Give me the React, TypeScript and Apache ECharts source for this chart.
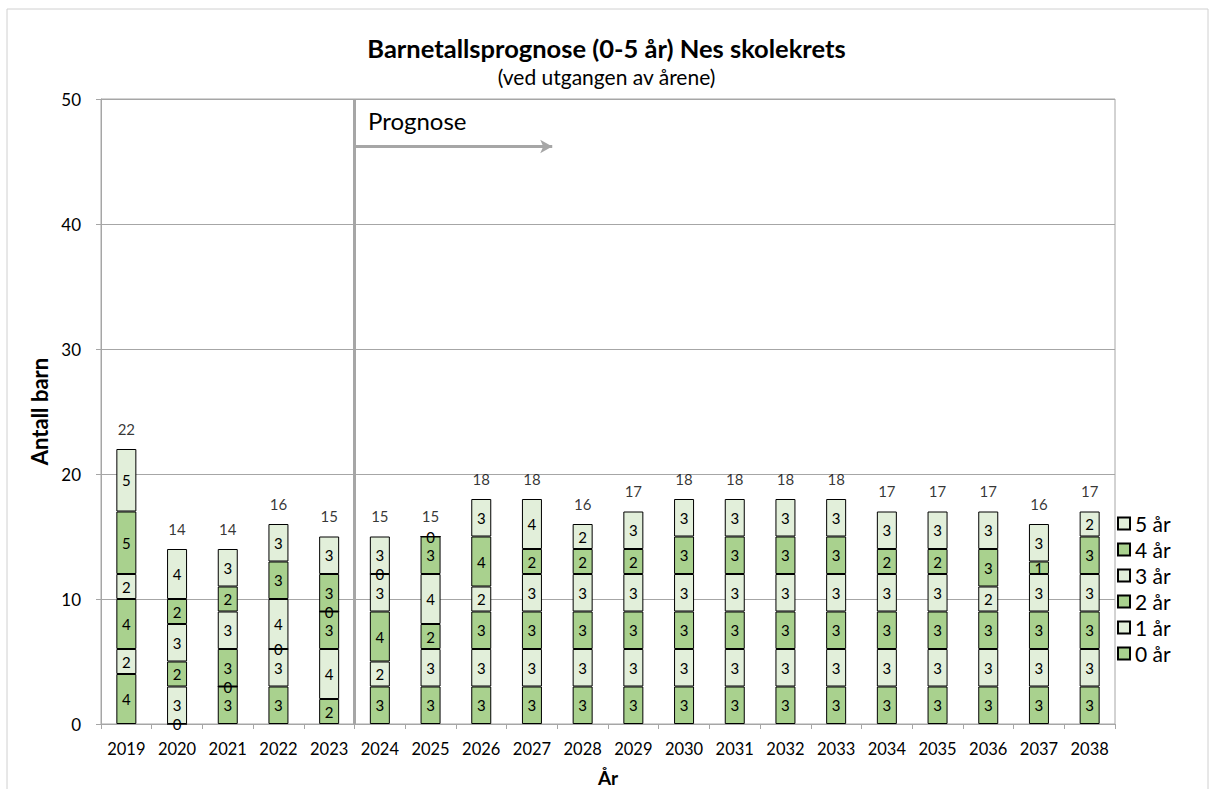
import React, { useEffect, useRef } from "react";
import * as echarts from "echarts";

const years = ["2019","2020","2021","2022","2023","2024","2025","2026","2027","2028","2029","2030","2031","2032","2033","2034","2035","2036","2037","2038"];
const age0 = [4,0,3,3,2,3,3,3,3,3,3,3,3,3,3,3,3,3,3,3];
const age1 = [2,3,0,3,4,2,3,3,3,3,3,3,3,3,3,3,3,3,3,3];
const age2 = [4,2,3,0,3,4,2,3,3,3,3,3,3,3,3,3,3,3,3,3];
const age3 = [2,3,3,4,0,3,4,2,3,3,3,3,3,3,3,3,3,2,3,3];
const age4 = [5,2,2,3,3,0,3,4,2,2,2,3,3,3,3,2,2,3,1,3];
const age5 = [5,4,3,3,3,3,0,3,4,2,3,3,3,3,3,3,3,3,3,2];
const seriesNames = ["0 år","1 år","2 år","3 år","4 år","5 år"];
const yTicks = { min: 0, max: 50, interval: 10 };
const prognoseStart = 5; // boundary index between 2023 and 2024
const arrowY = 46.2;
const arrowEnd = 8.9;

const DARK = "#a9d18e";
const LIGHT = "#e2efda";
const FONT = "Lato";

export default function App() {
  const ref = useRef<HTMLDivElement>(null);
  useEffect(() => {
    if (!ref.current) return;
    const chart = echarts.init(ref.current, undefined, { renderer: "svg" });
    const all = [age0, age1, age2, age3, age4, age5];
    const totals = years.map((_, i) => all.reduce((s, a) => s + a[i], 0));
    const barSeries = all.map((arr, k) => ({
      name: seriesNames[k],
      type: "bar",
      stack: "total",
      barWidth: 20,
      data: arr,
      itemStyle: { color: k % 2 === 0 ? DARK : LIGHT, borderColor: "#000", borderWidth: 1 },
      label: { show: true, position: "inside", color: "#000", fontSize: 15, fontFamily: FONT },
      emphasis: { disabled: true },
    }));
    chart.setOption({
      animation: false,
      textStyle: { fontFamily: FONT },
      title: [
        {
          text: "Barnetallsprognose (0-5 år) Nes skolekrets",
          left: "center",
          top: 30,
          textStyle: { fontFamily: FONT, fontSize: 25.5, fontWeight: "bold", color: "#000" },
        },
        {
          text: "(ved utgangen av årene)",
          left: "center",
          top: 61,
          textStyle: { fontFamily: FONT, fontSize: 21, fontWeight: "normal", color: "#000" },
        },
      ],
      legend: {
        data: [...seriesNames].reverse(),
        orient: "vertical",
        left: 1112,
        top: 508,
        itemWidth: 12,
        itemHeight: 12,
        itemGap: 5,
        textStyle: { fontFamily: FONT, fontSize: 21, color: "#000", lineHeight: 21 },
        icon: "rect",
      },
      grid: {
        left: 101,
        top: 99,
        width: 1014,
        height: 625,
        outerBoundsMode: "none",
        containLabel: false,
        show: true,
        borderColor: "#a6a6a6",
        borderWidth: 1,
      },
      xAxis: [
        {
          type: "category",
          data: years,
          name: "År",
          nameLocation: "middle",
          nameGap: 44,
          nameTextStyle: { fontFamily: FONT, fontSize: 19, fontWeight: "bold", color: "#000" },
          axisLine: { lineStyle: { color: "#a6a6a6" } },
          axisTick: { show: true, length: 5, lineStyle: { color: "#a6a6a6" } },
          axisLabel: { fontFamily: FONT, fontSize: 16.5, color: "#000", margin: 16, interval: 0 },
        },
        { type: "value", min: 0, max: 20, show: false },
      ],
      yAxis: {
        type: "value",
        min: yTicks.min,
        max: yTicks.max,
        interval: yTicks.interval,
        name: "Antall barn",
        nameLocation: "middle",
        nameGap: 37,
        nameTextStyle: { fontFamily: FONT, fontSize: 22, fontWeight: "bold", color: "#000" },
        axisLine: { show: true, lineStyle: { color: "#a6a6a6" } },
        axisTick: { show: true, length: 5, lineStyle: { color: "#a6a6a6" } },
        axisLabel: { fontFamily: FONT, fontSize: 17, color: "#000", margin: 20 },
        splitLine: { lineStyle: { color: "#a6a6a6" } },
      },
      series: [
        ...barSeries,
        {
          name: "Sum",
          type: "scatter",
          data: totals,
          symbolSize: 0,
          silent: true,
          label: { show: true, position: "top", distance: 13, color: "#000", fontSize: 15, fontFamily: FONT },
        },
        {
          name: "Prognose",
          type: "line",
          xAxisIndex: 1,
          data: [[prognoseStart, yTicks.min], [prognoseStart, yTicks.max]],
          symbol: "none",
          silent: true,
          lineStyle: { color: "#a6a6a6", width: 3 },
          markLine: {
            silent: true,
            symbol: ["none", "arrow"],
            symbolSize: [10, 12],
            label: { show: false },
            lineStyle: { color: "#a6a6a6", width: 3, type: "solid" },
            data: [[{ coord: [prognoseStart, arrowY] }, { coord: [arrowEnd, arrowY] }]],
          },
        },
      ],
      graphic: [
        {
          type: "rect",
          shape: { x: 7, y: 9, width: 1201, height: 800 },
          style: { fill: "none", stroke: "#d0d0d0", lineWidth: 1 },
          silent: true,
        },
        {
          type: "text",
          left: 368,
          top: 108,
          style: { text: "Prognose", fontFamily: FONT, fontSize: 24, fill: "#000" },
        },
      ],
    });
    return () => chart.dispose();
  }, []);
  return (
    <div
      ref={ref}
      style={{ position: "fixed", left: 0, top: 0, width: 1213, height: 789, background: "#fff" }}
    />
  );
}
